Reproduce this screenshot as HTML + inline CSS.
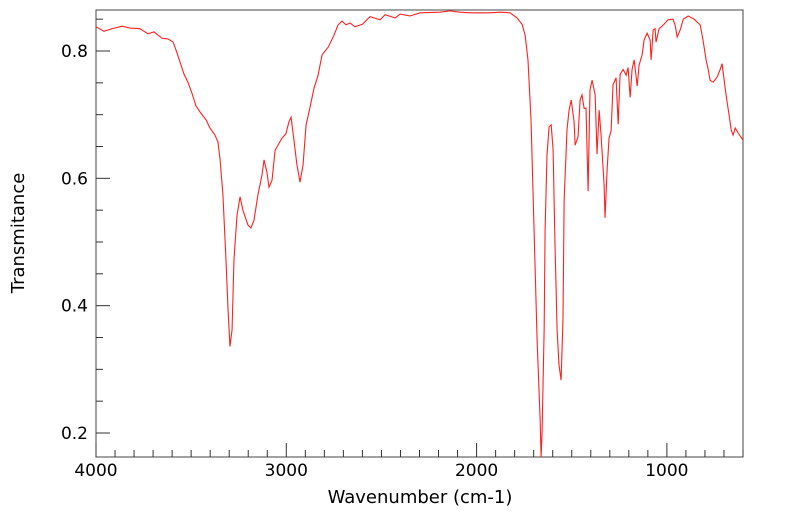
<!DOCTYPE html>
<html><head><meta charset="utf-8"><style>
html,body{margin:0;padding:0;background:#fff;}
svg{display:block;font-family:"DejaVu Sans","Liberation Sans",sans-serif;}
</style></head><body>
<svg id="chart" width="799" height="516" viewBox="0 0 799 516" xmlns="http://www.w3.org/2000/svg">
<rect x="96" y="10" width="647" height="447" fill="#fff" stroke="#444" stroke-width="1"/>
<g id="axes"></g>
<path id="line" fill="none" stroke="#ff2020" stroke-width="1.1"/>
<text x="420" y="503" font-size="18" text-anchor="middle">Wavenumber (cm-1)</text>
<text transform="translate(24,233) rotate(-90)" font-size="18" text-anchor="middle">Transmitance</text>
</svg>
<script>
const wavenumbers=[4000,3958,3916,3863,3821,3769,3727,3695,3653,3622,3595,3580,3559,3538,3517,3496,3475,3453,3422,3401,3375,3359,3348,3333,3317,3306,3296,3285,3275,3259,3243,3228,3202,3186,3170,3149,3128,3117,3102,3091,3075,3059,3044,3023,3002,2986,2975,2960,2944,2928,2912,2896,2875,2854,2833,2812,2780,2749,2728,2707,2686,2665,2639,2600,2560,2507,2481,2428,2402,2350,2297,2192,2140,2087,2035,1929,1877,1824,1788,1761,1745,1730,1714,1698,1682,1666,1661,1656,1645,1640,1630,1619,1608,1598,1588,1577,1567,1556,1546,1540,1525,1514,1503,1488,1482,1467,1456,1446,1435,1425,1414,1404,1393,1377,1367,1356,1346,1330,1325,1314,1304,1293,1283,1267,1256,1246,1230,1214,1204,1193,1183,1172,1156,1146,1130,1120,1104,1088,1083,1072,1062,1057,1041,1015,994,968,957,946,930,914,888,857,825,810,794,783,773,757,736,720,710,699,689,673,662,652,641,625,600];
const transmittance=[0.838,0.831,0.835,0.839,0.836,0.835,0.827,0.830,0.820,0.819,0.814,0.802,0.783,0.764,0.751,0.734,0.714,0.704,0.692,0.679,0.668,0.657,0.629,0.574,0.472,0.393,0.336,0.362,0.472,0.542,0.571,0.550,0.527,0.522,0.534,0.574,0.605,0.629,0.610,0.586,0.597,0.644,0.652,0.663,0.670,0.689,0.696,0.660,0.621,0.594,0.621,0.684,0.712,0.742,0.762,0.794,0.806,0.825,0.841,0.847,0.841,0.844,0.838,0.842,0.854,0.849,0.857,0.852,0.858,0.855,0.860,0.861,0.863,0.861,0.860,0.860,0.861,0.860,0.852,0.842,0.825,0.786,0.692,0.519,0.346,0.220,0.150,0.200,0.362,0.519,0.637,0.681,0.684,0.645,0.496,0.362,0.307,0.283,0.378,0.566,0.676,0.707,0.723,0.690,0.652,0.665,0.723,0.731,0.710,0.710,0.580,0.739,0.754,0.731,0.638,0.707,0.668,0.590,0.538,0.614,0.663,0.675,0.747,0.758,0.685,0.763,0.771,0.762,0.774,0.727,0.771,0.786,0.745,0.778,0.794,0.817,0.828,0.817,0.786,0.833,0.835,0.814,0.835,0.842,0.849,0.850,0.841,0.822,0.833,0.850,0.855,0.850,0.841,0.817,0.786,0.771,0.754,0.751,0.759,0.771,0.780,0.754,0.731,0.699,0.676,0.668,0.679,0.671,0.660];
const xTickLabels=[4000,3000,2000,1000];
const yTickLabels=[0.2,0.4,0.6,0.8];

const L=96,R=743,T=10,B=457;
const xScale=w=>L+(4000-w)*(R-L)/3400;
const yMin=0.1623,yMax=0.8644;
const yScale=v=>B-(v-yMin)*(B-T)/(yMax-yMin);
const NS='http://www.w3.org/2000/svg';
const ax=document.getElementById('axes');
function mk(tag,attrs){const e=document.createElementNS(NS,tag);for(const k in attrs)e.setAttribute(k,attrs[k]);return e;}
for(let w=4000;w>=600;w-=100){
  const x=xScale(w);const major=w%1000===0;
  const t=mk('line',{x1:x,x2:x,y1:B,y2:B-(major?14:7),stroke:'#333','stroke-width':1});
  
  
  ax.appendChild(t);
}
xTickLabels.forEach(v=>{
  const t=mk('text',{x:xScale(v),y:B+19,'font-size':17,'text-anchor':'middle'});
  t.textContent=v;
  
  
  ax.appendChild(t);
});
for(let i=4;i<=17;i++){
  const v=i*0.05;const y=yScale(v);if(y<T||y>B)continue;
  const major=i%4===0;
  const t=mk('line',{x1:L,x2:L+(major?14:7),y1:y,y2:y,stroke:'#333','stroke-width':1});
  
  
  ax.appendChild(t);
}
yTickLabels.forEach(v=>{
  const t=mk('text',{x:L-8,y:yScale(v)+6,'font-size':17,'text-anchor':'end'});
  t.textContent=v.toFixed(1);
  
  
  ax.appendChild(t);
});
let d='';
wavenumbers.forEach((w,i)=>{
  let y=Math.min(B,Math.max(T,yScale(transmittance[i])));
  d+=(i?'L':'M')+xScale(w).toFixed(2)+','+y.toFixed(2);
});
document.getElementById('line').setAttribute('d',d);
</script>
</body></html>
